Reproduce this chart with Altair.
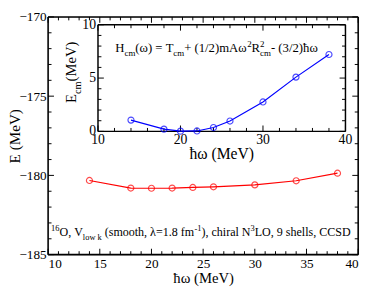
import altair as alt
import pandas as pd

# ---------------- data ----------------
hw_main = [14, 18, 20, 22, 24, 26, 30, 34, 38]
E_main = [-180.32, -180.80, -180.81, -180.80, -180.76, -180.72, -180.60, -180.34, -179.86]
hw_cm = [14, 18, 20, 22, 24, 26, 30, 34, 38]
E_cm = [1.06, 0.21, 0.02, 0.04, 0.36, 0.97, 2.76, 5.09, 7.21]

main_x_labels = [10, 15, 20, 25, 30, 35, 40]
main_y_labels = [-185, -180, -175, -170]
inset_x_labels = [10, 20, 30, 40]
inset_y_labels = [0, 5, 10]

x_title = "ħω (MeV)"
y_title = "E (MeV)"
formula_parts = [("H", "n"), ("cm", "sub"), ("(ω) = T", "n"), ("cm", "sub"),
                 (" + (1/2)mAω", "n"), ("2", "sup", -2.5), ("R", "n"), (("2", "cm"), "stack"),
                 ("   - (3/2)ħω", "n")]
note_parts = [("16", "sup"), ("O, V", "n"), ("low k", "sub"), (" (smooth, λ=1.8 fm", "n", 3),
              ("-1", "sup", -3), ("), chiral N", "n"), ("3", "sup"), ("LO, 9 shells, CCSD", "n")]
inset_ytitle_parts = [("E", "n"), ("cm", "sub"), (" (MeV)", "n")]

# ---------------- layout ----------------
FONT = "Liberation Serif"
NBSP = "\u00a0"
PAD_L = 41
W, H = 317, 243
X0, X1, Y0, Y1 = 10, 40, -185, -170
kx, ky = W / (X1 - X0), H / (Y1 - Y0)
IL, IR, IT, IB = 51, 304, 8, 117
ikx, iky = (IR - IL) / 30, (IB - IT) / 10
ix_dom = [10 - IL / ikx, 40 + (W - IR) / ikx]
iy_dom = [0 - (H - IB) / iky, 10 + IT / iky]


def mx(px):
    return X0 + px / kx


def my(py):
    return Y1 - py / ky


def ix(px):
    return 10 + px / ikx


def iy(py):
    return 10 - py / iky


TW = {' ': 250, '(': 333, ')': 333, ',': 250, '.': 250, '/': 278, '-': 333, '=': 564, '+': 564,
      'A': 722, 'C': 667, 'D': 722, 'E': 611, 'H': 722, 'L': 611, 'M': 889, 'N': 722, 'O': 722,
      'R': 667, 'S': 556, 'T': 611, 'V': 722, 'a': 444, 'c': 444, 'e': 444, 'f': 333, 'h': 500,
      'i': 278, 'k': 500, 'l': 278, 'm': 778, 'o': 500, 'r': 333, 's': 389, 't': 278, 'w': 722,
      'ω': 640, 'λ': 500, 'ħ': 500}


def tw(s, size):
    return sum(TW.get(c, 500) for c in s) / 1000 * size


def runs(parts, size):
    small = round(size * 0.7, 1)
    rows, pos = [], 0.0

    def add(text, p, s):
        rows.append((text.replace(" ", NBSP), pos, p, s))

    for part in parts:
        text, kind = part[0], part[1]
        if len(part) > 2:
            pos += part[2]
        if kind == "n":
            add(text, 0.0, size); pos += tw(text, size)
        elif kind == "sub":
            add(text, size * 0.3, small); pos += tw(text, small)
        elif kind == "sup":
            add(text, -size * 0.4, small); pos += tw(text, small)
        else:
            sup, sub = text
            add(sup, -size * 0.4, small)
            add(sub, size * 0.3, small)
            pos += max(tw(sup, small), tw(sub, small))
    return rows


sx = alt.Scale(domain=[X0, X1], nice=False, zero=False)
sy = alt.Scale(domain=[Y0, Y1], nice=False, zero=False)
isx = alt.Scale(domain=ix_dom, nice=False, zero=False)
isy = alt.Scale(domain=iy_dom, nice=False, zero=False)

ax_x = alt.Axis(values=main_x_labels, ticks=False, domain=False, grid=False, title=x_title,
                labelPadding=2, labelFont=FONT, labelFontSize=13.5,
                titleFont=FONT, titleFontSize=15, titleFontWeight="normal",
                titleBaseline="bottom", titleY=31, titleX=W / 2, titleAlign="center",
                labelColor="black", titleColor="black")
ax_y = alt.Axis(values=main_y_labels, ticks=False, domain=False, grid=False, title=y_title,
                labelPadding=2, labelFont=FONT, labelFontSize=13.5,
                titleFont=FONT, titleFontSize=15.5, titleFontWeight="normal",
                titleAngle=270, titleBaseline="bottom", titleX=-26, titleY=H / 2,
                titleAlign="center", labelColor="black", titleColor="black")

RED, BLUE = "#ff0000", "#0000ff"
MAJ, MIN = 6, 3.5

# ---------------- main panel ----------------
df_main = pd.DataFrame({"hw": hw_main, "E": E_main})
main_line = alt.Chart(df_main).mark_line(color=RED, strokeWidth=1.2).encode(
    x=alt.X("hw:Q", scale=sx, axis=ax_x), y=alt.Y("E:Q", scale=sy, axis=ax_y))
main_pts = alt.Chart(df_main).mark_point(shape="circle", filled=False, color=RED, size=38,
                                         strokeWidth=1.2).encode(
    x=alt.X("hw:Q", scale=sx, axis=ax_x), y=alt.Y("E:Q", scale=sy, axis=ax_y))

trows = []
for v in range(X0, X1 + 1):
    L = MAJ if v % 5 == 0 else MIN
    trows.append((v, v, Y0, Y0 + L / ky, 1.0))
    trows.append((v, v, Y1, Y1 - L / ky, 1.0))
for v in range(Y0, Y1 + 1):
    L = MAJ if v % 5 == 0 else MIN
    trows.append((X0, X0 + L / kx, v, v, 1.0))
    trows.append((X1, X1 - L / kx, v, v, 1.0))
trows += [(X0, X1, Y0, Y0, 1.6), (X0, X1, Y1, Y1, 1.6), (X0, X0, Y0, Y1, 1.6), (X1, X1, Y0, Y1, 1.6)]
df_mt = pd.DataFrame(trows, columns=["x", "x2", "y", "y2", "w"])
main_ticks = alt.Chart(df_mt).mark_rule(color="black").encode(
    x=alt.X("x:Q", scale=sx, axis=ax_x), x2="x2:Q",
    y=alt.Y("y:Q", scale=sy, axis=ax_y), y2="y2:Q",
    strokeWidth=alt.StrokeWidth("w:Q", scale=None, legend=None))

note_rows = [(t, mx(52 - 8 - PAD_L + a), my(H - 19 + p), s) for t, a, p, s in runs(note_parts, 12.3)]
df_note = pd.DataFrame(note_rows, columns=["t", "x", "y", "s"])
note = alt.Chart(df_note).mark_text(align="left", baseline="alphabetic", font=FONT,
                                    color="black").encode(
    x=alt.X("x:Q", scale=sx, axis=ax_x), y=alt.Y("y:Q", scale=sy, axis=ax_y),
    text="t:N", size=alt.Size("s:Q", scale=None, legend=None))

main = alt.layer(main_ticks, main_line, main_pts, note)

# ---------------- inset ----------------
df_cm = pd.DataFrame({"hw": hw_cm, "E": E_cm})
i_line = alt.Chart(df_cm).mark_line(color=BLUE, strokeWidth=1.2).encode(
    x=alt.X("hw:Q", scale=isx, axis=None), y=alt.Y("E:Q", scale=isy, axis=None))
i_pts = alt.Chart(df_cm).mark_point(shape="circle", filled=False, color=BLUE, size=38,
                                    strokeWidth=1.2).encode(
    x=alt.X("hw:Q", scale=isx, axis=None), y=alt.Y("E:Q", scale=isy, axis=None))

brows = [(10, 40, 0, 0, 1.5), (10, 40, 10, 10, 1.5), (10, 10, 0, 10, 1.5), (40, 40, 0, 10, 1.5)]
for v in range(10, 41, 2):
    L = MAJ if v % 10 == 0 else MIN
    brows.append((v, v, 0, L / iky, 1.0))
    brows.append((v, v, 10, 10 - L / iky, 1.0))
for v in range(0, 11):
    L = MAJ if v % 5 == 0 else MIN
    brows.append((10, 10 + L / ikx, v, v, 1.0))
    brows.append((40, 40 - L / ikx, v, v, 1.0))
df_ib = pd.DataFrame(brows, columns=["x", "x2", "y", "y2", "w"])
i_box = alt.Chart(df_ib).mark_rule(color="black").encode(
    x=alt.X("x:Q", scale=isx, axis=None), x2="x2:Q",
    y=alt.Y("y:Q", scale=isy, axis=None), y2="y2:Q",
    strokeWidth=alt.StrokeWidth("w:Q", scale=None, legend=None))

df_ixl = pd.DataFrame({"v": inset_x_labels, "y": [iy(IB - IT + 2)] * len(inset_x_labels)})
i_xl = alt.Chart(df_ixl).mark_text(baseline="top", align="center", font=FONT, fontSize=14,
                                   color="black").encode(
    x=alt.X("v:Q", scale=isx, axis=None), y=alt.Y("y:Q", scale=isy, axis=None), text="v:Q")
df_iyl = pd.DataFrame({"v": inset_y_labels, "x": [ix(-2)] * len(inset_y_labels)})
i_yl = alt.Chart(df_iyl).mark_text(baseline="middle", align="right", font=FONT, fontSize=14,
                                   color="black").encode(
    x=alt.X("x:Q", scale=isx, axis=None), y=alt.Y("v:Q", scale=isy, axis=None), text="v:Q")

df_ixt = pd.DataFrame({"t": [x_title], "x": [25], "y": [iy(IB - IT + 23)]})
i_xt = alt.Chart(df_ixt).mark_text(baseline="middle", align="center", font=FONT, fontSize=16,
                                   color="black").encode(
    x=alt.X("x:Q", scale=isx, axis=None), y=alt.Y("y:Q", scale=isy, axis=None), text="t:N")

yt_rows = [(t, ix(-22 + p), iy(80 - a), s) for t, a, p, s in runs(inset_ytitle_parts, 15)]
df_iyt = pd.DataFrame(yt_rows, columns=["t", "x", "y", "s"])
i_yt = alt.Chart(df_iyt).mark_text(align="left", baseline="alphabetic", angle=270, font=FONT,
                                   color="black").encode(
    x=alt.X("x:Q", scale=isx, axis=None), y=alt.Y("y:Q", scale=isy, axis=None),
    text="t:N", size=alt.Size("s:Q", scale=None, legend=None))

f_rows = [(t, ix(17.7 + a), iy(28 + p), s) for t, a, p, s in runs(formula_parts, 13)]
df_f = pd.DataFrame(f_rows, columns=["t", "x", "y", "s"])
i_f = alt.Chart(df_f).mark_text(align="left", baseline="alphabetic", font=FONT,
                                color="black").encode(
    x=alt.X("x:Q", scale=isx, axis=None), y=alt.Y("y:Q", scale=isy, axis=None),
    text="t:N", size=alt.Size("s:Q", scale=None, legend=None))

inset = alt.layer(i_box, i_line, i_pts, i_xl, i_yl, i_xt, i_yt, i_f)

chart = alt.layer(main, inset).resolve_scale(
    x="independent", y="independent", size="independent", strokeWidth="independent"
).properties(
    width=W, height=H, autosize="none",
    padding={"left": PAD_L, "top": 6, "right": 8, "bottom": 32},
).configure_view(stroke=None).configure(background="white")

chart.save("out.html", embed_options={"renderer": "svg", "actions": False})
